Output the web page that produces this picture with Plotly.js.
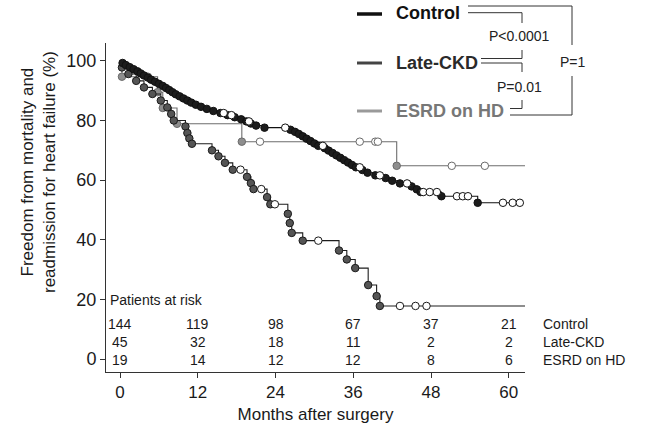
<!DOCTYPE html>
<html>
<head>
<meta charset="utf-8">
<script src="https://cdn.plot.ly/plotly-3.0.1.min.js"></script>
<style>html,body{margin:0;padding:0;background:#fff}#chart{width:650px;height:430px}</style>
</head>
<body>
<div id="chart"></div>
<script>
// ---- Data ----
const groupNames = ["Control", "Late-CKD", "ESRD on HD"];

// Control: event times (months) and survival (%) after each event
const ctrlEventT = [0.4,0.9,1.5,2.1,2.7,3.2,3.7,4.3,4.8,5.4,6.0,6.6,7.1,7.6,8.1,8.6,9.2,9.8,10.4,11.0,11.7,12.5,13.4,14.4,15.5,16.6,17.7,18.7,19.5,20.2,21.0,22.3,26.3,27.0,27.6,28.2,28.8,29.4,30.0,30.6,31.6,32.2,32.8,33.4,34.0,34.6,35.2,35.8,36.4,37.4,38.2,39.4,41.0,42.0,43.2,45.0,45.8,46.4,49.6,55.2];
const ctrlEventS = [99.3,98.6,97.9,97.2,96.5,95.8,95.1,94.4,93.7,93.0,92.3,91.6,90.9,90.2,89.5,88.8,88.1,87.4,86.7,86.0,85.3,84.6,83.9,83.2,82.5,81.8,81.1,80.4,79.7,79.0,78.3,77.6,76.9,76.2,75.5,74.7,73.9,73.1,72.3,71.5,70.7,69.9,69.1,68.3,67.5,66.7,65.9,65.1,64.3,63.4,62.5,61.6,60.7,59.8,58.9,57.9,56.9,56.0,54.6,52.4];
const ctrlCensT = [16.0,17.2,19.9,25.5,31.3,37.0,40.1,44.3,46.8,47.8,48.9,52.0,52.9,53.7,59.1,60.6,61.7];
const ctrlEnd = 62.0;

// Late-CKD
const ckdEventT = [0.3,1.3,2.5,3.7,5.0,6.3,7.3,7.9,8.3,10.1,10.4,10.7,11.1,14.2,15.2,16.2,17.4,19.6,20.2,20.6,22.7,23.2,25.9,26.2,26.5,28.2,33.8,35.0,36.3,38.3,39.6,40.1];
const ckdEventS = [97.8,95.6,93.3,91.1,88.9,86.7,84.4,82.2,80.0,78.0,75.8,74.0,72.2,70.0,68.0,65.8,63.5,61.1,59.0,57.0,54.3,51.9,48.7,45.6,42.3,39.7,36.4,33.4,30.5,24.8,21.1,17.8];
const ckdCensT = [18.6,21.8,23.9,30.6,43.2,45.6,47.3];
const ckdEnd = 62.5;

// ESRD on HD
const esrdEventT = [0.3,5.8,6.6,8.8,18.8,42.7];
const esrdEventS = [94.7,89.5,84.2,78.9,72.9,64.8];
const esrdCensT = [4.3,21.6,37.0,39.4,39.8,51.2,56.3];
const esrdEnd = 62.5;

// Patients at risk table
const riskTimes = [0,12,24,36,48,60];
const riskControl = [144,119,98,67,37,21];
const riskCKD = [45,32,18,11,2,2];
const riskESRD = [19,14,12,12,8,6];

const xTicks = [0,12,24,36,48,60];
const yTicks = [0,20,40,60,80,100];
const pValues = ["P<0.0001", "P=0.01", "P=1"];

// ---- Helpers ----
function stepValue(tArr, sArr, t){
  let s = 100;
  for (let i=0;i<tArr.length;i++){ if (tArr[i] <= t) s = sArr[i]; }
  return s;
}
const L=106, T=43, W=419, H=329;
const px = x => (x - L) / W;
const py = y => (T + H - y) / H;
const FONT = "Liberation Sans, Arial, sans-serif";

function groupTraces(evT, evS, cT, end, lineColor, fill, edge){
  const lx = [0].concat(evT, [end]);
  const ly = [100].concat(evS, [evS[evS.length-1]]);
  return [
    {x: lx, y: ly, mode:'lines', line:{shape:'hv', color: lineColor, width:1.1}, hoverinfo:'skip', showlegend:false},
    {x: evT, y: evS, mode:'markers', marker:{size:7.5, color: fill, line:{color: edge, width:1}}, showlegend:false, cliponaxis:false},
    {x: cT, y: cT.map(t=>stepValue(evT, evS, t)), mode:'markers', marker:{size:7.5, color:'#ffffff', line:{color: edge, width:1}}, showlegend:false, cliponaxis:false}
  ];
}

const data = []
  .concat(groupTraces(esrdEventT, esrdEventS, esrdCensT, esrdEnd, '#6e6e6e', '#8e8e8e', '#6a6a6a'))
  .concat(groupTraces(ckdEventT, ckdEventS, ckdCensT, ckdEnd, '#1e1e1e', '#555555', '#1a1a1a'))
  .concat(groupTraces(ctrlEventT, ctrlEventS, ctrlCensT, ctrlEnd, '#111111', '#1c1c1c', '#111111'));

const annotations = [];
// y-axis title
annotations.push({xref:'paper', yref:'paper', x:px(38), y:py(172), text:'Freedom from mortality and<br>readmission for heart failure (%)', showarrow:false, textangle:-90, font:{family:FONT, size:17, color:'#1a1a1a'}, xanchor:'center', yanchor:'middle'});
// risk table
annotations.push({xref:'paper', yref:'paper', x:px(108), y:py(300), text:'Patients at risk', showarrow:false, xanchor:'left', yanchor:'middle', font:{family:FONT, size:14, color:'#1a1a1a'}});
const rows = [riskControl, riskCKD, riskESRD];
const rowY = [324, 342, 360];
rows.forEach((r, ri) => {
  r.forEach((v, i) => {
    annotations.push({xref:'x', yref:'paper', x: riskTimes[i], y: py(rowY[ri]), text: String(v), showarrow:false, xanchor:'center', yanchor:'middle', font:{family:FONT, size:14, color:'#1a1a1a'}});
  });
  annotations.push({xref:'paper', yref:'paper', x:px(541), y:py(rowY[ri]), text: groupNames[ri], showarrow:false, xanchor:'left', yanchor:'middle', font:{family:FONT, size:14, color:'#1a1a1a'}});
});
// legend labels
const legY = [13, 63, 111];
const legTextColor = ['#111111', '#2a2a2a', '#777777'];
groupNames.forEach((g, i) => {
  annotations.push({xref:'paper', yref:'paper', x:px(394), y:py(legY[i]), text:'<b>'+g+'</b>', showarrow:false, xanchor:'left', yanchor:'middle', font:{family:FONT, size:18, color:legTextColor[i]}});
});
// p-values
annotations.push({xref:'paper', yref:'paper', x:px(519), y:py(36), text:pValues[0], showarrow:false, xanchor:'center', yanchor:'middle', font:{family:FONT, size:14, color:'#222'}});
annotations.push({xref:'paper', yref:'paper', x:px(519), y:py(87), text:pValues[1], showarrow:false, xanchor:'center', yanchor:'middle', font:{family:FONT, size:14, color:'#222'}});
annotations.push({xref:'paper', yref:'paper', x:px(573), y:py(62), text:pValues[2], showarrow:false, xanchor:'center', yanchor:'middle', font:{family:FONT, size:14, color:'#222'}});

function seg(x0,y0,x1,y1,color,width){
  return {type:'line', xref:'paper', yref:'paper', x0:px(x0), y0:py(y0), x1:px(x1), y1:py(y1), line:{color:color||'#333', width:width||1}};
}
const shapes = [
  // legend samples
  seg(357,14,382,14,'#111',3.5),
  seg(357,63,382,63,'#444',3),
  seg(357,111,382,111,'#9a9a9a',3),
  // control lines
  seg(468,6,572,6), seg(468,12.7,522,12.7),
  seg(522,12.7,522,23), seg(522,50,522,58.5),
  // late-ckd lines
  seg(481,58.5,522,58.5), seg(481,63,522,63),
  seg(522,63,522,72), seg(522,100,522,108.5),
  // esrd lines
  seg(510,108.5,522,108.5), seg(510,115,572,115),
  // outer bracket
  seg(572,6,572,45), seg(572,76,572,115)
];

const layout = {
  width:650, height:430,
  margin:{l:L, r:650-L-W, t:T, b:430-T-H, pad:0},
  paper_bgcolor:'#ffffff', plot_bgcolor:'#ffffff',
  font:{family:FONT, color:'#1a1a1a'},
  showlegend:false,
  xaxis:{range:[-2.16, 62.5], tickvals:xTicks, ticktext:xTicks.map(String), ticks:'outside', ticklen:5, tickcolor:'#333', showline:true, linecolor:'#333', linewidth:1, showgrid:false, zeroline:false,
         tickfont:{family:FONT, size:17, color:'#1a1a1a'},
         title:{text:'Months after surgery', font:{family:FONT, size:17, color:'#1a1a1a'}, standoff:6}},
  yaxis:{range:[-4.36, 106], tickvals:yTicks, ticktext:yTicks.map(String), ticks:'outside', ticklen:5, tickcolor:'#333', showline:true, linecolor:'#333', linewidth:1, showgrid:false, zeroline:false,
         tickfont:{family:FONT, size:18, color:'#1a1a1a'}},
  annotations: annotations,
  shapes: shapes
};

Plotly.newPlot('chart', data, layout, {staticPlot:true, displayModeBar:false});
</script>
</body>
</html>
